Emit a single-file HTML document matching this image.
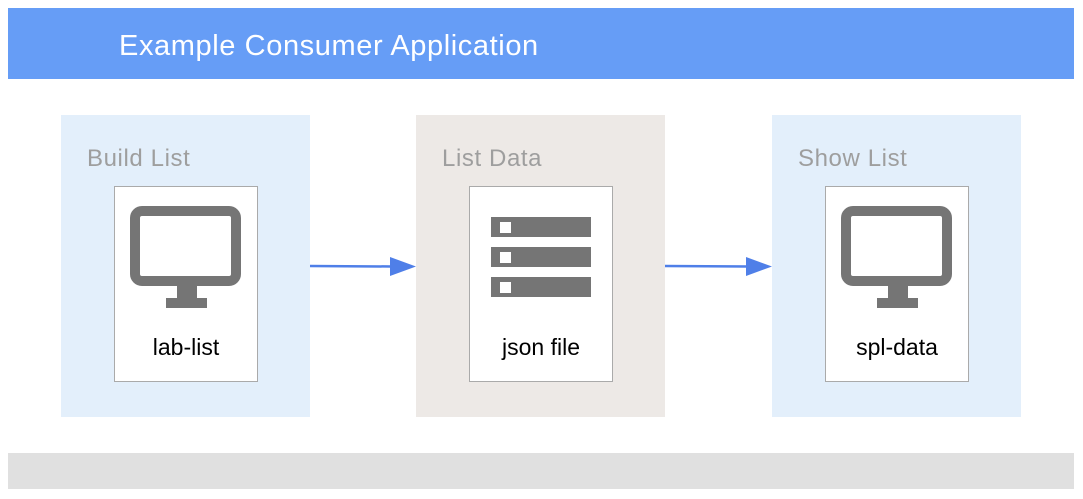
<!DOCTYPE html>
<html><head><style>
body{margin:0;width:1083px;height:499px;background:#fff;font-family:"Liberation Sans",Arial,sans-serif;position:relative;overflow:hidden}
div{position:absolute;box-sizing:border-box}
.hdr{left:8px;top:8px;width:1066px;height:71px;background:#669df6;color:#fff;font-size:29px;line-height:76px;padding-left:111px;letter-spacing:0.6px}
.p{top:115px;height:302px;width:249px}
.t{left:26px;top:30px;font-size:24px;color:#9e9e9e;letter-spacing:0.6px}
.c{top:71px;left:53px;width:144px;height:196px;background:#fff;border:1px solid #aaa}
.l{top:147px;left:0;width:142px;text-align:center;font-size:23px;color:#000}
.bot{left:8px;top:453px;width:1066px;height:36px;background:#e0e0e0}
</style></head><body>
<div class="hdr">Example Consumer Application</div>
<div class="p" style="left:61px;background:#e3effb"><div class="t">Build List</div>
<div class="c"><svg width="142" height="140" style="position:absolute;left:0;top:0"><rect x="20" y="24" width="101" height="70" rx="7" fill="none" stroke="#757575" stroke-width="10"/><rect x="62" y="99" width="20" height="12" fill="#757575"/><rect x="51" y="111" width="41" height="10" fill="#757575"/></svg><div class="l">lab-list</div></div></div>
<div class="p" style="left:416px;background:#ede9e6"><div class="t">List Data</div>
<div class="c"><svg width="142" height="140" style="position:absolute;left:0;top:0"><g fill="#757575"><rect x="21" y="30" width="100" height="20"/><rect x="21" y="60" width="100" height="20"/><rect x="21" y="90" width="100" height="20"/></g><g fill="#fff"><rect x="30" y="35" width="11" height="11"/><rect x="30" y="65" width="11" height="11"/><rect x="30" y="95" width="11" height="11"/></g></svg><div class="l">json file</div></div></div>
<div class="p" style="left:772px;background:#e3effb"><div class="t">Show List</div>
<div class="c"><svg width="142" height="140" style="position:absolute;left:0;top:0"><rect x="20" y="24" width="101" height="70" rx="7" fill="none" stroke="#757575" stroke-width="10"/><rect x="62" y="99" width="20" height="12" fill="#757575"/><rect x="51" y="111" width="41" height="10" fill="#757575"/></svg><div class="l">spl-data</div></div></div>
<svg width="1083" height="499" style="position:absolute;left:0;top:0">
<g stroke="#4f7fe8" stroke-width="2.5"><line x1="310" y1="266" x2="392" y2="266.5"/><line x1="665" y1="266" x2="748" y2="266.5"/></g>
<g fill="#4f7fe8"><polygon points="390,257 416,266.5 390,276"/><polygon points="746,257 772,266.5 746,276"/></g>
</svg>
<div class="bot"></div>
</body></html>
